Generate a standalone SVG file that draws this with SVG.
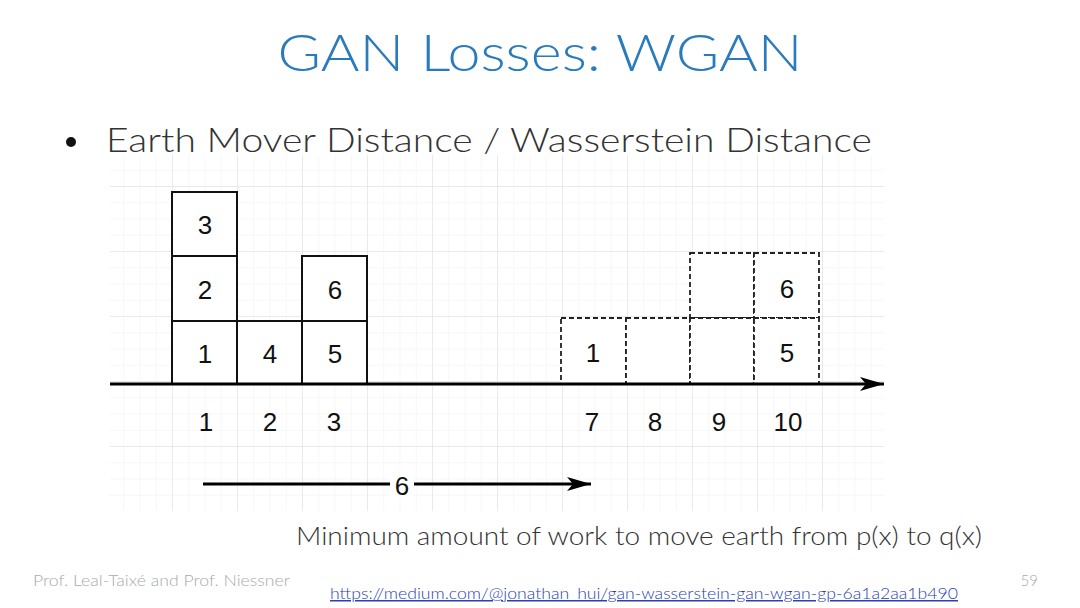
<svg xmlns="http://www.w3.org/2000/svg" width="1080" height="608" viewBox="0 0 1080 608">
<defs>
<pattern id="minor" x="172" y="186" width="16.25" height="16.25" patternUnits="userSpaceOnUse">
<path d="M0 0 H16.25 M0 0 V16.25" stroke="#efefef" stroke-width="1" fill="none"/>
</pattern>
<pattern id="major" x="172" y="186" width="65" height="65" patternUnits="userSpaceOnUse">
<path d="M0 0 H65 M0 0 V65" stroke="#dedede" stroke-width="1" fill="none"/>
</pattern>
<marker id="ah" markerWidth="26" markerHeight="16" refX="24" refY="8" orient="auto" markerUnits="userSpaceOnUse">
<path d="M0 1 L24 8 L0 15 L6 8 Z" fill="#000"/>
</marker>
<style>
.num{font-family:"Liberation Sans",Arial,sans-serif;font-size:26px;fill:#111;text-anchor:middle}
.solid{fill:#fff;stroke:#111;stroke-width:2}
.dash{fill:#fff;stroke:#222;stroke-width:1.8;stroke-dasharray:5 3}
.thin{font-family:Lato,"Open Sans",sans-serif;font-weight:300}
</style>
</defs>
<rect width="1080" height="608" fill="#fff"/>
<text x="540" y="71" class="thin" font-size="52" fill="#2a7bbd" text-anchor="middle" textLength="525" lengthAdjust="spacingAndGlyphs">GAN Losses: WGAN</text>
<g id="grid">
<rect x="110" y="155" width="774" height="356" fill="url(#minor)"/>
<rect x="110" y="155" width="774" height="356" fill="url(#major)"/>
</g>
<circle cx="71" cy="142" r="5" fill="#111"/>
<text x="106" y="152" class="thin" font-size="34" fill="#333" textLength="766" lengthAdjust="spacingAndGlyphs">Earth Mover Distance / Wasserstein Distance</text>
<g id="left-boxes">
<g id="b3"><rect class="solid" x="172" y="192" width="65" height="64"/><text class="num" x="205" y="234">3</text></g>
<g id="b2"><rect class="solid" x="172" y="256" width="65" height="65"/><text class="num" x="205" y="299">2</text></g>
<g id="b1"><rect class="solid" x="172" y="321" width="65" height="63"/><text class="num" x="205" y="363">1</text></g>
<g id="b4"><rect class="solid" x="237" y="321" width="65" height="63"/><text class="num" x="270" y="363">4</text></g>
<g id="b6"><rect class="solid" x="302" y="256" width="65" height="65"/><text class="num" x="335" y="299">6</text></g>
<g id="b5"><rect class="solid" x="302" y="321" width="65" height="63"/><text class="num" x="335" y="363">5</text></g>
</g>
<g id="right-boxes">
<g id="d7"><rect class="dash" x="561" y="318" width="65" height="66"/><text class="num" x="593" y="362">1</text></g>
<g id="d8"><rect class="dash" x="626" y="318" width="64" height="66"/></g>
<g id="d9a"><rect class="dash" x="690" y="253" width="64" height="65"/></g>
<g id="d9"><rect class="dash" x="690" y="318" width="64" height="66"/></g>
<g id="d10a"><rect class="dash" x="754" y="253" width="65" height="65"/><text class="num" x="787" y="298">6</text></g>
<g id="d10"><rect class="dash" x="754" y="318" width="65" height="66"/><text class="num" x="787" y="362">5</text></g>
</g>
<g id="connectors">
<line x1="110" y1="384" x2="884" y2="384" stroke="#000" stroke-width="3" marker-end="url(#ah)"/>
<line x1="203" y1="484" x2="591" y2="484" stroke="#000" stroke-width="3" marker-end="url(#ah)"/>
</g>
<g id="labels">
<text class="num" x="206" y="431">1</text>
<text class="num" x="270" y="431">2</text>
<text class="num" x="334" y="431">3</text>
<text class="num" x="592" y="431">7</text>
<text class="num" x="655" y="431">8</text>
<text class="num" x="719" y="431">9</text>
<text class="num" x="788" y="431">10</text>
<rect x="390" y="468" width="24" height="30" fill="#fff"/>
<text class="num" x="402" y="495" font-size="28">6</text>
</g>
<text x="296" y="545" class="thin" font-size="25" fill="#333" textLength="686" lengthAdjust="spacingAndGlyphs">Minimum amount of work to move earth from p(x) to q(x)</text>
<text x="33" y="586" class="thin" font-size="15" fill="#aaa" textLength="257" lengthAdjust="spacingAndGlyphs">Prof. Leal-Taixé and Prof. Niessner</text>
<text x="330" y="599" class="thin" font-size="15" fill="#2a3fb8" text-decoration="underline" textLength="628" lengthAdjust="spacingAndGlyphs">https://medium.com/@jonathan_hui/gan-wasserstein-gan-wgan-gp-6a1a2aa1b490</text>
<text x="1038" y="586" class="thin" font-size="15" fill="#aaa" text-anchor="end">59</text>
</svg>
